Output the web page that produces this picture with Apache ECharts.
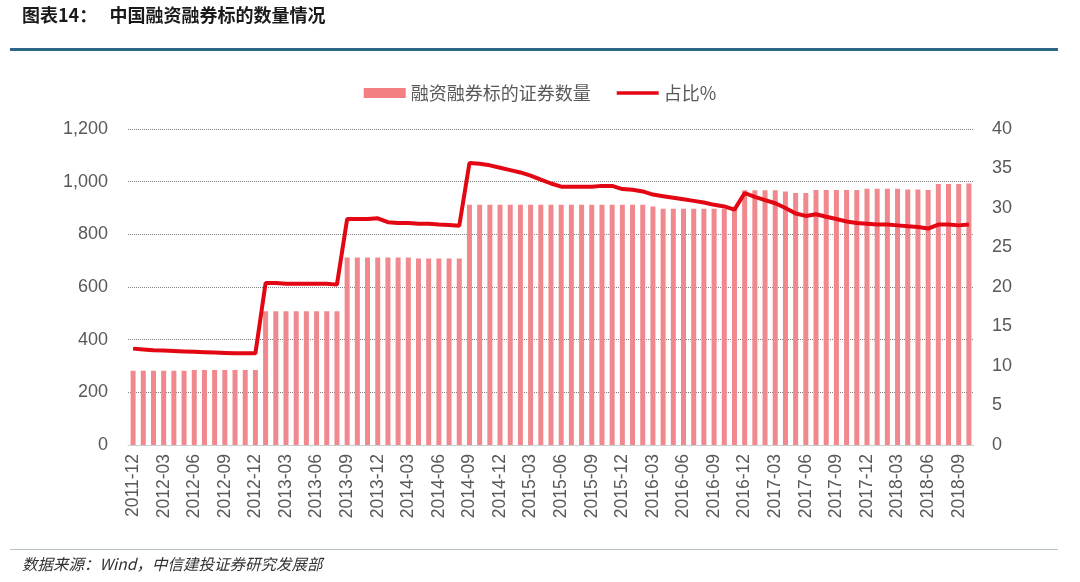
<!DOCTYPE html>
<html>
<head>
<meta charset="utf-8">
<script src="https://cdn.jsdelivr.net/npm/echarts@6/dist/echarts.min.js"></script>
<style>
html,body{margin:0;padding:0;background:#fff;}
#c{width:1080px;height:582px;}
</style>
</head>
<body>
<div id="c"></div>
<script>
// Categories: monthly, 2011-12 to 2018-10
const months = [];
(function(){
  let y = 2011, m = 12;
  while (!(y === 2018 && m === 11)) {
    months.push(y + '-' + (m < 10 ? '0' + m : '' + m));
    m++; if (m > 12) { m = 1; y++; }
  }
})();

// 融资融券标的的证券数量
const countValues = [
  282, 282, 282, 282, 282, 282, 285, 285, 285, 285, 285, 285, 285,
  508, 508, 508, 508, 508, 508, 508, 508,
  712, 712, 712, 712, 712, 712, 712, 708, 708, 708, 708, 708,
  912, 912, 912, 912, 912, 912, 912, 912, 912, 912, 912, 912, 912, 912, 912, 912, 912, 912,
  906, 897, 897, 897, 897, 897, 897, 897, 897,
  967, 967, 967, 967, 963, 957, 957,
  968, 968, 968, 968, 968,
  973, 973, 973, 973, 970, 970, 968,
  991, 991, 991, 993
];

// 占比%
const ratioValues = [
  12.2, 12.1, 12.0, 11.95, 11.9, 11.85, 11.8, 11.75, 11.7, 11.65, 11.6, 11.6, 11.6,
  20.5, 20.5, 20.4, 20.4, 20.4, 20.4, 20.4, 20.3,
  28.6, 28.6, 28.6, 28.7, 28.2, 28.1, 28.1, 28.0, 28.0, 27.9, 27.85, 27.75,
  35.7, 35.6, 35.4, 35.1, 34.8, 34.5, 34.1, 33.6, 33.1, 32.7, 32.7, 32.7, 32.7, 32.8, 32.8,
  32.4, 32.3, 32.1, 31.7, 31.5, 31.3, 31.1, 30.9, 30.7, 30.4, 30.2, 29.8,
  31.9, 31.4, 31.0, 30.6, 30.0, 29.3, 29.0, 29.2, 28.9, 28.6, 28.3, 28.1,
  28.0, 27.9, 27.9, 27.8, 27.7, 27.6, 27.4, 27.9, 27.9, 27.8, 27.9
];

const leftTicks = [0, 200, 400, 600, 800, 1000, 1200];
const rightTicks = [0, 5, 10, 15, 20, 25, 30, 35, 40];

const titleText = '图表14：   中国融资融券标的数量情况';
const sourceText = '数据来源：Wind，中信建投证券研究发展部';
const seriesNames = ['融资融券标的证券数量', '占比%'];

const chart = echarts.init(document.getElementById('c'), null, {renderer: 'canvas'});
const axisFont = {fontFamily: '"Liberation Sans", Arial, sans-serif', fontSize: 18, color: '#595959'};

chart.setOption({
  animation: false,
  backgroundColor: '#ffffff',
  graphic: [
    {type: 'text', left: 22, top: 6, style: {text: titleText, fontSize: 18, fontWeight: 'bold', fill: '#1a1a1a', fontFamily: '"Noto Sans CJK SC", sans-serif'}},
    {type: 'rect', shape: {x: 10, y: 48, width: 1048, height: 3}, style: {fill: '#2B6784'}},
    {type: 'rect', shape: {x: 10, y: 549, width: 1048, height: 1}, style: {fill: '#b8c4c4'}},
    {type: 'text', left: 22, top: 556, style: {text: sourceText, fontSize: 15.5, fontStyle: 'italic', fill: '#333333', fontFamily: '"Noto Sans CJK SC", sans-serif'}}
  ],
  legend: {
    top: 79,
    left: 'center',
    itemGap: 26,
    textStyle: {fontSize: 18, color: '#595959', fontFamily: '"Noto Sans CJK SC", sans-serif'},
    data: [
      {name: seriesNames[0], icon: 'rect', itemStyle: {color: '#F47F82'}},
      {name: seriesNames[1], icon: 'path://M0,0 L46,0 L46,4 L0,4 Z', itemStyle: {color: '#E30613'}}
    ],
    itemWidth: 42,
    itemHeight: 10
  },
  grid: {left: 128, right: 106, top: 129, bottom: 137, containLabel: false},
  xAxis: {
    type: 'category',
    data: months,
    boundaryGap: true,
    axisLine: {lineStyle: {color: '#c8d0d4', width: 1}},
    axisTick: {interval: 2, length: 4, lineStyle: {color: '#b8c8d0'}},
    axisLabel: Object.assign({interval: 2, rotate: 90, margin: 9}, axisFont, {fontSize: 17.5})
  },
  yAxis: [
    {
      type: 'value', min: leftTicks[0], max: leftTicks[leftTicks.length - 1], interval: 200,
      axisLine: {show: false}, axisTick: {show: false},
      splitLine: {lineStyle: {color: '#808080', type: [1, 1], width: 1}},
      axisLabel: Object.assign({margin: 20, formatter: v => v.toLocaleString('en-US')}, axisFont)
    },
    {
      type: 'value', min: rightTicks[0], max: rightTicks[rightTicks.length - 1], interval: 5,
      axisLine: {show: false}, axisTick: {show: false}, splitLine: {show: false},
      axisLabel: Object.assign({margin: 18}, axisFont)
    }
  ],
  series: [
    {
      name: seriesNames[0], type: 'bar', yAxisIndex: 0, data: countValues,
      barWidth: 5, itemStyle: {color: '#F0888D'}
    },
    {
      name: seriesNames[1], type: 'line', yAxisIndex: 1, data: ratioValues,
      symbol: 'none', lineStyle: {color: '#E30613', width: 4}, itemStyle: {color: '#E30613'}
    }
  ]
});
</script>
</body>
</html>
